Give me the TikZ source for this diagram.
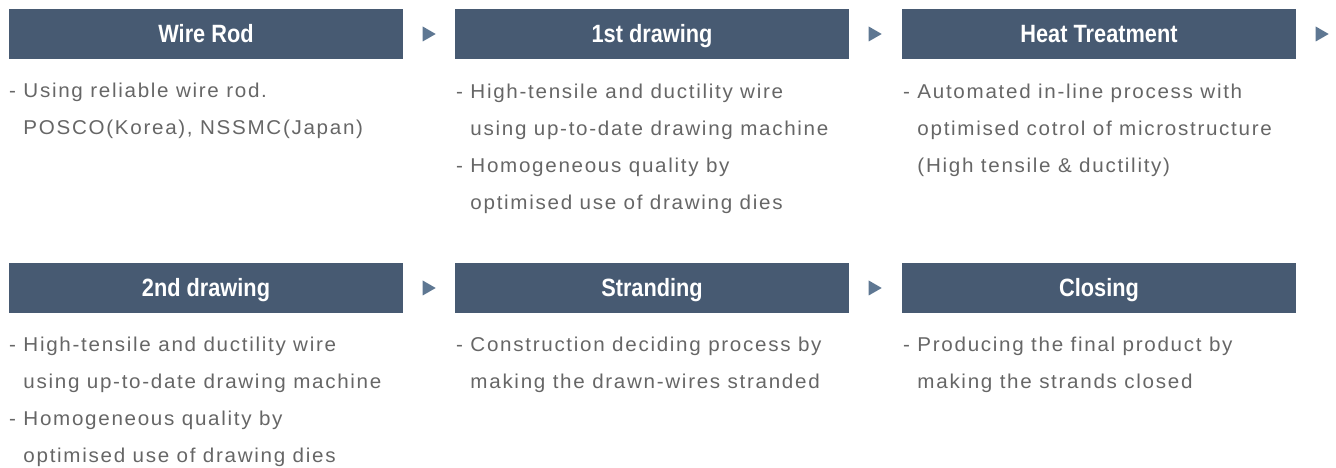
\documentclass[tikz,border=0pt]{standalone}
\usepackage{fontspec}
\usetikzlibrary{calc}
\setmainfont{Liberation Sans}
\newfontfamily\headfont[FakeStretch=0.87]{Liberation Sans}
\newfontfamily\bodyfont[FakeStretch=1.03, LetterSpace=8.5]{Liberation Sans}
\definecolor{boxblue}{HTML}{475A72}
\definecolor{tipblue}{HTML}{5E7792}
\definecolor{bodygray}{HTML}{666666}

\tikzset{
  stage/.style={rectangle, fill=boxblue, draw=none, minimum width=394pt,
    minimum height=50pt, inner sep=0pt, text=white,
    font=\headfont\bfseries\fontsize{25}{25}\selectfont,
    text height=18pt, text depth=0pt},
  desc/.style={anchor=base west, inner sep=0pt, text=bodygray,
    font=\bodyfont\fontsize{20}{36.7}\selectfont},
  tip/.style={fill=tipblue}
}
\newcommand{\desctext}[1]{\parbox[t]{420pt}{\raggedright #1}}
\newcommand{\contline}{\phantom{- }}

\begin{document}
\begin{tikzpicture}[x=1pt, y=1pt]
  \useasboundingbox (0,0) rectangle (1336,468);

  % first row of process stages
  \node[stage] (rod)   at (206,434)  {Wire Rod};
  \node[stage] (draw1) at (652,434)  {1st drawing};
  \node[stage] (heat)  at (1099,434) {Heat Treatment};

  % second row of process stages
  \node[stage] (draw2) at (206,180)  {2nd drawing};
  \node[stage] (strand) at (652,180) {Stranding};
  \node[stage] (close) at (1099,180) {Closing};

  % step markers after each stage
  \foreach \s in {rod, draw1, heat, draw2, strand}
    \fill[tip] ($(\s.east)+(19.5,-7.5)$) -- ++(13,7.5) -- ++(-13,7.5) -- cycle;

  % descriptions under the stages
  \node[desc] (t-rod) at (9,370) {\desctext{- Using reliable wire rod.\\
    \contline POSCO(Korea), NSSMC(Japan)}};
  \node[desc] (t-draw1) at (456,369) {\desctext{- High-tensile and ductility wire\\
    \contline using up-to-date drawing machine\\
    - Homogeneous quality by\\
    \contline optimised use of drawing dies}};
  \node[desc] (t-heat) at (903,369) {\desctext{- Automated in-line process with\\
    \contline optimised cotrol of microstructure\\
    \contline (High tensile \& ductility)}};

  \node[desc] (t-draw2) at (9,116) {\desctext{- High-tensile and ductility wire\\
    \contline using up-to-date drawing machine\\
    - Homogeneous quality by\\
    \contline optimised use of drawing dies}};
  \node[desc] (t-strand) at (456,116) {\desctext{- Construction deciding process by\\
    \contline making the drawn-wires stranded}};
  \node[desc] (t-close) at (903,116) {\desctext{- Producing the final product by\\
    \contline making the strands closed}};
\end{tikzpicture}
\end{document}
